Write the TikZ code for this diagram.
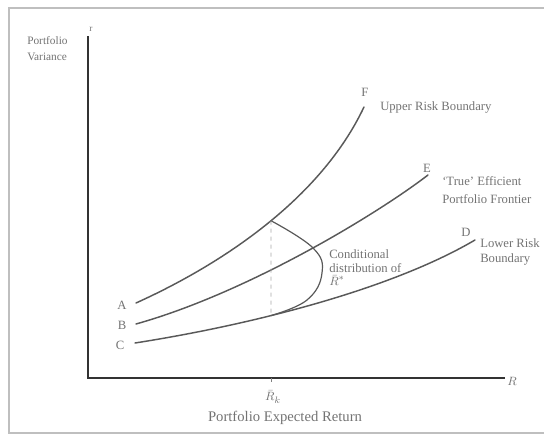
\documentclass[tikz,border=0pt]{standalone}
\usepackage{fontspec}
\setmainfont{Liberation Serif}
\usetikzlibrary{calc,intersections}

\begin{document}
\begin{tikzpicture}[x=0.75pt,y=-0.75pt,
  lbl/.style={text=black!55,inner sep=0pt,font=\fontsize{9.5}{10.5}\selectfont},
  curve/.style={draw=black!65,line width=1.1pt,line cap=round},
  axis/.style={draw=black!80,line width=1.6pt}]
  \useasboundingbox (0,0) rectangle (544,436);
  % page frame
  \draw[black!25,line width=1.2pt] (544,8)--(9,8)--(9,433)--(544,433);
  \coordinate (O) at (88,378); \coordinate (Y) at (88,36); \coordinate (X) at (505,378);
  \coordinate (A) at (136,303); \coordinate (F) at (364,107);
  \coordinate (B) at (136,324); \coordinate (E) at (428,175);
  \coordinate (C) at (135,343); \coordinate (D) at (475,240);
  \coordinate (K) at (271,378);
  \draw[axis] (Y)--(O)--(X);
  \draw[curve,name path=upper] (A) .. controls (220,265) and (320,200) .. (F);
  \draw[curve,name path=true] (B) .. controls (250,292) and (380,212) .. (E);
  \draw[curve,name path=lower] (C) .. controls (250,325) and (390,290) .. (D);
  \path[name path=vk] (271,0)--(K);
  \path[name path=vm] (313,0)--(313,436);
  \path[name intersections={of=upper and vk,by=P}];
  \path[name intersections={of=lower and vk,by=Q}];
  \path[name intersections={of=true and vm,by=M}];
  \draw[curve,line width=0.9pt] plot[smooth,tension=0.7] coordinates {(P) (M) (322,273) (307,300) (Q)};
  \draw[black!35,dashed,line width=0.5pt] (P)--(Q);
  \draw[black!50,line width=0.5pt] (K)--++(0,4);
  \foreach \p/\x/\y in {A/122/305,B/122/325,C/120/345,F/365/92,E/427/168,D/466/232}
    \node[lbl] (l\p) at (\x,\y) {\p};
  \node[lbl,font=\fontsize{7}{8}\selectfont] (ly) at (91,29) {r};
  \node[lbl] (lx) at (512,381) {$R$};
  \node[lbl] (lk) at (273,397) {$\bar{R}_k$};
  \node[lbl,anchor=west,align=left,font=\fontsize{8.5}{12}\selectfont] (yt) at (27,49) {Portfolio\\Variance};
  \node[lbl,anchor=west] (tF) at (380,107) {Upper Risk Boundary};
  \node[lbl,anchor=west,align=left,font=\fontsize{9.5}{13.5}\selectfont] (tE) at (442,190) {`True' Efficient\\Portfolio Frontier};
  \node[lbl,anchor=west,align=left,font=\fontsize{9.5}{11.5}\selectfont] (tD) at (480,252) {Lower Risk\\Boundary};
  \node[lbl,anchor=west,align=left,font=\fontsize{9.5}{10}\selectfont] (tc) at (329,261) {Conditional\\distribution of};
  \node[lbl,anchor=west] (tr) at (329,281) {$\bar{R}^{*}$};
  \node[lbl,font=\fontsize{11}{12}\selectfont] (xt) at (285,418) {Portfolio Expected Return};
\end{tikzpicture}
\end{document}
